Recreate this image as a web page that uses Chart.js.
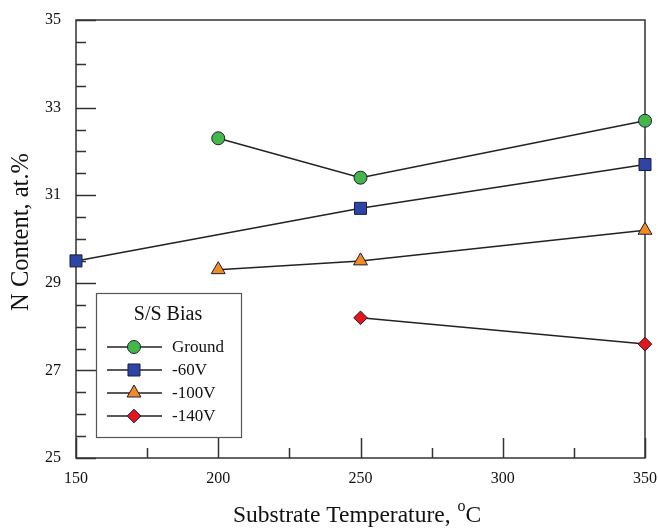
<!DOCTYPE html>
<html><head><meta charset="utf-8">
<script src="https://cdn.jsdelivr.net/npm/chart.js@4/dist/chart.umd.min.js"></script>
<style>html,body{margin:0;padding:0;background:#fff}#wrap{width:658px;height:528px}</style>
</head><body><div id="wrap"><canvas id="c" width="658" height="528"></canvas></div>
<script>
const seriesNames = ["Ground", "-60V", "-100V", "-140V"];
const groundT = [200, 250, 350];
const groundN = [32.3, 31.4, 32.7];
const v60T = [150, 250, 350];
const v60N = [29.5, 30.7, 31.7];
const v100T = [200, 250, 350];
const v100N = [29.3, 29.5, 30.2];
const v140T = [250, 350];
const v140N = [28.2, 27.6];
const xTicks = [150, 200, 250, 300, 350];
const yTicks = [25, 27, 29, 31, 33, 35];
const legendTitle = "S/S Bias";
const xTitle = "Substrate Temperature, ";
const xTitleSup = "o";
const xTitleEnd = "C";
const yTitle = "N Content, at.%";

const FONT = "'Liberation Serif', 'Times New Roman', serif";
const pts = (xs, ys) => xs.map((x, i) => ({x: x, y: ys[i]}));
const styles = [
  {c: "#45b649", s: "circle", r: 6.5},
  {c: "#2e45a6", s: "rect", r: 8.5},
  {c: "#f28b21", s: "triangle", r: 8},
  {c: "#e4161c", s: "rectRot", r: 6.8}
];
const data = [pts(groundT, groundN), pts(v60T, v60N), pts(v100T, v100N), pts(v140T, v140N)];

const datasets = data.map((d, i) => ({
  label: seriesNames[i], data: d, showLine: true,
  borderColor: "#222", borderWidth: 1.5,
  pointStyle: styles[i].s, pointRadius: styles[i].r, pointHoverRadius: styles[i].r,
  pointBackgroundColor: styles[i].c, pointBorderColor: "#1c1c3a", pointBorderWidth: 1,
  clip: false
}));

const framePlugin = {
  id: "frame",
  beforeDatasetsDraw(chart) {
    const {ctx, chartArea: a, scales: {x, y}} = chart;
    ctx.save();
    ctx.strokeStyle = "#333"; ctx.lineWidth = 1.5;
    ctx.strokeRect(a.left, a.top, a.right - a.left, a.bottom - a.top);
    ctx.beginPath();
    for (let v = 25; v <= 35.001; v += 0.5) {
      const major = yTicks.some(t => Math.abs(t - v) < 1e-6);
      const py = Math.round(y.getPixelForValue(v)) + 0.5;
      ctx.moveTo(a.left, py); ctx.lineTo(a.left + (major ? 20 : 10), py);
    }
    for (let v = 150; v <= 350; v += 25) {
      const major = xTicks.includes(v);
      const px = Math.round(x.getPixelForValue(v)) + 0.5;
      ctx.moveTo(px, a.bottom); ctx.lineTo(px, a.bottom - (major ? 20 : 10));
    }
    ctx.stroke();
    ctx.restore();
  },
  afterDraw(chart) {
    const {ctx, chartArea: a} = chart;
    ctx.save();
    ctx.fillStyle = "#111";
    // x title
    const F1 = "23.5px " + FONT, F2 = "16px " + FONT;
    ctx.font = F1;
    ctx.textBaseline = "alphabetic";
    const w1 = ctx.measureText(xTitle).width;
    ctx.font = F2;
    const w2 = ctx.measureText(xTitleSup).width;
    ctx.font = F1;
    const w3 = ctx.measureText(xTitleEnd).width;
    let sx = 357 - (w1 + w2 + w3 + 1) / 2;
    const by = 522;
    ctx.textAlign = "left";
    ctx.fillText(xTitle, sx, by);
    ctx.font = F2;
    ctx.fillText(xTitleSup, sx + w1 + 1, by - 11);
    ctx.font = F1;
    ctx.fillText(xTitleEnd, sx + w1 + w2 + 1, by);
    // y title
    ctx.save();
    ctx.translate(28, 232);
    ctx.rotate(-Math.PI / 2);
    ctx.textAlign = "center"; ctx.textBaseline = "alphabetic";
    ctx.font = "24.5px " + FONT;
    ctx.fillText(yTitle, 0, 0);
    ctx.restore();
    // legend
    const lx = 96, ly = 293, lw = 145, lh = 144;
    ctx.fillStyle = "#fff";
    ctx.fillRect(lx, ly, lw, lh);
    ctx.strokeStyle = "#555"; ctx.lineWidth = 1.2;
    ctx.strokeRect(lx + 0.5, ly + 0.5, lw, lh);
    ctx.fillStyle = "#111";
    ctx.font = "20px " + FONT;
    ctx.textAlign = "center"; ctx.textBaseline = "middle";
    ctx.fillText(legendTitle, 168, 315);
    ctx.font = "17px " + FONT;
    seriesNames.forEach((n, i) => {
      const yy = 347 + i * 23;
      ctx.strokeStyle = "#222"; ctx.lineWidth = 1.5;
      ctx.beginPath(); ctx.moveTo(107, yy); ctx.lineTo(162, yy); ctx.stroke();
      ctx.fillStyle = styles[i].c; ctx.strokeStyle = "#1c1c3a"; ctx.lineWidth = 1;
      Chart.helpers.drawPoint(ctx, {pointStyle: styles[i].s, radius: styles[i].r, borderWidth: 1}, 134, yy);
      ctx.fillStyle = "#111"; ctx.textAlign = "left";
      ctx.fillText(n, 172, yy + 1);
    });
    ctx.restore();
  }
};

new Chart(document.getElementById("c"), {
  type: "scatter",
  data: {datasets},
  options: {
    responsive: false, animation: false, devicePixelRatio: 1,
    layout: {padding: {top: 20, right: 13, left: 0, bottom: 0}},
    plugins: {legend: {display: false}, tooltip: {enabled: false}},
    scales: {
      x: {
        type: "linear", min: 150, max: 350,
        afterBuildTicks: s => { s.ticks = xTicks.map(v => ({value: v})); },
        afterFit: s => { s.height = 70; s.paddingLeft = 0; s.paddingRight = 0; },
        grid: {display: false, drawTicks: false}, border: {display: false},
        ticks: {color: "#111", font: {family: FONT, size: 16}, padding: 11, maxRotation: 0}
      },
      y: {
        type: "linear", min: 25, max: 35,
        afterBuildTicks: s => { s.ticks = yTicks.map(v => ({value: v})); },
        afterFit: s => { s.width = 76; s.paddingTop = 0; s.paddingBottom = 0; },
        grid: {display: false, drawTicks: false}, border: {display: false},
        ticks: {color: "#111", font: {family: FONT, size: 16}, padding: 15}
      }
    }
  },
  plugins: [framePlugin]
});
</script></body></html>
